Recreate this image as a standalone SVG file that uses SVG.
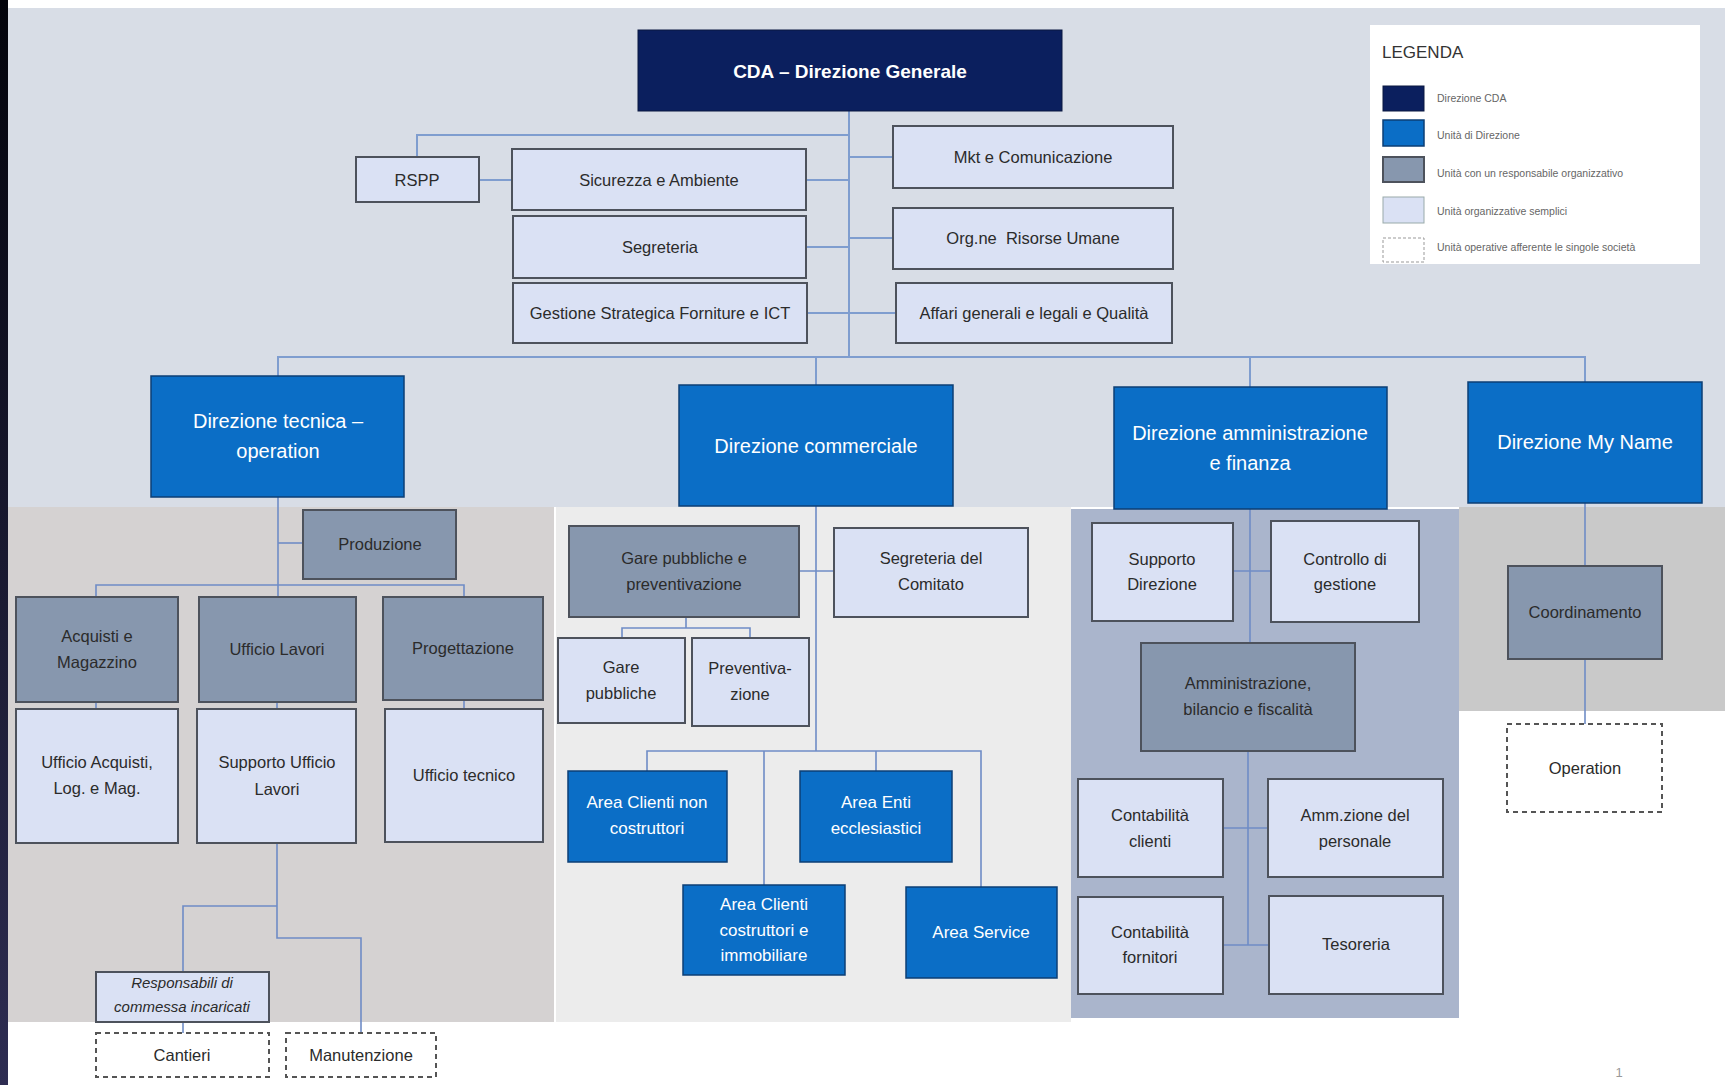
<svg xmlns="http://www.w3.org/2000/svg" width="1725" height="1085" viewBox="0 0 1725 1085">
<defs>
<linearGradient id="band" x1="0" y1="0" x2="0" y2="1">
<stop offset="0" stop-color="#03040c"/>
<stop offset="1" stop-color="#2e2d52"/>
</linearGradient>
</defs>
<style>
.l{fill:#dae1f4;stroke:#4d525c;stroke-width:2}
.m{fill:#8797ae;stroke:#4d525c;stroke-width:2}
.b{fill:#0b6ec6;stroke:#0d3f75;stroke-width:1.5}
.n{fill:#0b1f5e;stroke:#0a1840;stroke-width:1}
.d{fill:#ffffff;stroke:#555;stroke-width:2;stroke-dasharray:5 4}
.c{fill:none;stroke:#7f9dcf;stroke-width:2}
.ci{fill:none;stroke:#6f8cc6;stroke-width:1.6}
text{font-family:"Liberation Sans",Arial,sans-serif;text-anchor:middle}
.t{font-size:16.5px;fill:#2b2b2b}
.w{font-size:20px;fill:#ffffff}
.ws{font-size:17px;fill:#ffffff}
.lg{font-size:10.5px;fill:#666;text-anchor:start}
</style>
<rect x="0" y="0" width="1725" height="1085" fill="#ffffff"/>
<rect x="8" y="8" width="1717" height="499" fill="#d8dde6"/>
<rect x="8" y="507" width="546" height="515" fill="#d5d2d2"/>
<rect x="556" y="507" width="515" height="515" fill="#ececec"/>
<rect x="1071" y="509" width="388" height="509" fill="#aab5cc"/>
<rect x="1459" y="507" width="266" height="204" fill="#c9c9c9"/>
<rect x="0" y="0" width="8" height="1085" fill="url(#band)"/>

<g id="connectors">
<path class="c" d="M849 111 V357"/>
<path class="c" d="M417 157 V135 H849"/>
<path class="c" d="M479 180 H512"/>
<path class="c" d="M806 180 H849"/>
<path class="c" d="M806 247 H849"/>
<path class="c" d="M807 313 H849"/>
<path class="c" d="M849 157 H893"/>
<path class="c" d="M849 238 H893"/>
<path class="c" d="M849 313 H896"/>
<path class="c" d="M278 376 V357 H1585 V382"/>
<path class="c" d="M816 357 V385"/>
<path class="c" d="M1250 357 V387"/>
<path class="ci" d="M278 497 V597"/>
<path class="ci" d="M278 543 H303"/>
<path class="ci" d="M96 597 V585 H464 V597"/>
<path class="ci" d="M96 702 V709"/>
<path class="ci" d="M277 702 V709"/>
<path class="ci" d="M464 700 V709"/>
<path class="ci" d="M277 843 V938 H361 V1033"/>
<path class="ci" d="M277 906 H183 V972"/>
<path class="ci" d="M183 1022 V1033"/>
<path class="ci" d="M816 506 V751"/>
<path class="ci" d="M799 571 H834"/>
<path class="ci" d="M686 617 V628"/>
<path class="ci" d="M622 638 V628 H750 V638"/>
<path class="ci" d="M647 771 V751 H981 V887"/>
<path class="ci" d="M764 751 V885"/>
<path class="ci" d="M876 751 V771"/>
<path class="ci" d="M1250 509 V643"/>
<path class="ci" d="M1233 571 H1271"/>
<path class="ci" d="M1248 751 V945"/>
<path class="ci" d="M1223 828 H1268"/>
<path class="ci" d="M1223 945 H1269"/>
<path class="ci" d="M1585 503 V566"/>
<path class="ci" d="M1585 659 V724"/>
</g>

<g id="cda"><rect class="n" x="638" y="30" width="424" height="81"/><text x="850" y="78" style="font-size:19px;font-weight:bold;fill:#fff">CDA – Direzione Generale</text></g>
<g id="rspp"><rect class="l" x="356" y="157" width="123" height="45"/><text class="t" x="417" y="186">RSPP</text></g>
<g id="sicurezza"><rect class="l" x="512" y="149" width="294" height="61"/><text class="t" x="659" y="186">Sicurezza e Ambiente</text></g>
<g id="segreteria"><rect class="l" x="513" y="216" width="293" height="62"/><text class="t" x="660" y="253">Segreteria</text></g>
<g id="gestione"><rect class="l" x="513" y="283" width="294" height="60"/><text class="t" x="660" y="319">Gestione Strategica Forniture e ICT</text></g>
<g id="mkt"><rect class="l" x="893" y="126" width="280" height="62"/><text class="t" x="1033" y="163">Mkt e Comunicazione</text></g>
<g id="orgne"><rect class="l" x="893" y="208" width="280" height="61"/><text class="t" x="1033" y="244" style="white-space:pre">Org.ne  Risorse Umane</text></g>
<g id="affari"><rect class="l" x="896" y="283" width="276" height="60"/><text class="t" x="1034" y="319">Affari generali e legali e Qualità</text></g>

<g id="dir-tecnica"><rect class="b" x="151" y="376" width="253" height="121"/><text class="w" x="278" y="428">Direzione tecnica –</text><text class="w" x="278" y="458">operation</text></g>
<g id="dir-commerciale"><rect class="b" x="679" y="385" width="274" height="121"/><text class="w" x="816" y="453">Direzione commerciale</text></g>
<g id="dir-amm"><rect class="b" x="1114" y="387" width="273" height="122"/><text class="w" x="1250" y="440">Direzione amministrazione</text><text class="w" x="1250" y="470">e finanza</text></g>
<g id="dir-myname"><rect class="b" x="1468" y="382" width="234" height="121"/><text class="w" x="1585" y="449">Direzione My Name</text></g>

<g id="produzione"><rect class="m" x="303" y="510" width="153" height="69"/><text class="t" x="380" y="550">Produzione</text></g>
<g id="acquisti"><rect class="m" x="16" y="597" width="162" height="105"/><text class="t" x="97" y="642">Acquisti e</text><text class="t" x="97" y="668">Magazzino</text></g>
<g id="ufficio-lavori"><rect class="m" x="199" y="597" width="157" height="105"/><text class="t" x="277" y="655">Ufficio Lavori</text></g>
<g id="progettazione"><rect class="m" x="383" y="597" width="160" height="103"/><text class="t" x="463" y="654">Progettazione</text></g>
<g id="ufficio-acquisti"><rect class="l" x="16" y="709" width="162" height="134"/><text class="t" x="97" y="768">Ufficio Acquisti,</text><text class="t" x="97" y="794">Log. e Mag.</text></g>
<g id="supporto-lavori"><rect class="l" x="197" y="709" width="159" height="134"/><text class="t" x="277" y="768">Supporto Ufficio</text><text class="t" x="277" y="795">Lavori</text></g>
<g id="ufficio-tecnico"><rect class="l" x="385" y="709" width="158" height="133"/><text class="t" x="464" y="781">Ufficio tecnico</text></g>
<g id="responsabili"><rect class="l" x="96" y="972" width="173" height="50"/><text class="t" x="182" y="988" style="font-size:15px;font-style:italic">Responsabili di</text><text class="t" x="182" y="1012" style="font-size:15px;font-style:italic">commessa incaricati</text></g>
<g id="cantieri"><rect class="d" x="96" y="1033" width="173" height="44"/><text class="t" x="182" y="1061">Cantieri</text></g>
<g id="manutenzione"><rect class="d" x="286" y="1033" width="150" height="44"/><text class="t" x="361" y="1061">Manutenzione</text></g>

<g id="gare-prev"><rect class="m" x="569" y="526" width="230" height="91"/><text class="t" x="684" y="564">Gare pubbliche e</text><text class="t" x="684" y="590">preventivazione</text></g>
<g id="segr-comitato"><rect class="l" x="834" y="528" width="194" height="89"/><text class="t" x="931" y="564">Segreteria del</text><text class="t" x="931" y="590">Comitato</text></g>
<g id="gare-pubbliche"><rect class="l" x="558" y="638" width="127" height="85"/><text class="t" x="621" y="673">Gare</text><text class="t" x="621" y="699">pubbliche</text></g>
<g id="preventivazione"><rect class="l" x="692" y="638" width="117" height="88"/><text class="t" x="750" y="674">Preventiva-</text><text class="t" x="750" y="700">zione</text></g>
<g id="area-non-costruttori"><rect class="b" x="568" y="771" width="159" height="91"/><text class="ws" x="647" y="808">Area Clienti non</text><text class="ws" x="647" y="834">costruttori</text></g>
<g id="area-enti"><rect class="b" x="800" y="771" width="152" height="91"/><text class="ws" x="876" y="808">Area Enti</text><text class="ws" x="876" y="834">ecclesiastici</text></g>
<g id="area-costruttori"><rect class="b" x="683" y="885" width="162" height="90"/><text class="ws" x="764" y="910">Area Clienti</text><text class="ws" x="764" y="936">costruttori e</text><text class="ws" x="764" y="961">immobiliare</text></g>
<g id="area-service"><rect class="b" x="906" y="887" width="151" height="91"/><text class="ws" x="981" y="938">Area Service</text></g>

<g id="supporto-direzione"><rect class="l" x="1092" y="523" width="141" height="98"/><text class="t" x="1162" y="565">Supporto</text><text class="t" x="1162" y="590">Direzione</text></g>
<g id="controllo"><rect class="l" x="1271" y="521" width="148" height="101"/><text class="t" x="1345" y="565">Controllo di</text><text class="t" x="1345" y="590">gestione</text></g>
<g id="amministrazione"><rect class="m" x="1141" y="643" width="214" height="108"/><text class="t" x="1248" y="689">Amministrazione,</text><text class="t" x="1248" y="715">bilancio e fiscalità</text></g>
<g id="cont-clienti"><rect class="l" x="1078" y="779" width="145" height="98"/><text class="t" x="1150" y="821">Contabilità</text><text class="t" x="1150" y="847">clienti</text></g>
<g id="amm-personale"><rect class="l" x="1268" y="779" width="175" height="98"/><text class="t" x="1355" y="821">Amm.zione del</text><text class="t" x="1355" y="847">personale</text></g>
<g id="cont-fornitori"><rect class="l" x="1078" y="897" width="145" height="97"/><text class="t" x="1150" y="938">Contabilità</text><text class="t" x="1150" y="963">fornitori</text></g>
<g id="tesoreria"><rect class="l" x="1269" y="896" width="174" height="98"/><text class="t" x="1356" y="950">Tesoreria</text></g>

<g id="coordinamento"><rect class="m" x="1508" y="566" width="154" height="93"/><text class="t" x="1585" y="618">Coordinamento</text></g>
<g id="operation"><rect class="d" x="1507" y="724" width="155" height="88"/><text class="t" x="1585" y="774">Operation</text></g>

<g id="legenda">
<rect x="1370" y="25" width="330" height="239" fill="#ffffff"/>
<text x="1382" y="58" style="font-size:17px;fill:#333;text-anchor:start">LEGENDA</text>
<rect class="n" x="1383" y="86" width="41" height="25"/>
<rect class="b" x="1383" y="120" width="41" height="26"/>
<rect class="m" x="1383" y="157" width="41" height="25"/>
<rect x="1383" y="197" width="41" height="26" fill="#dae1f4" stroke="#9aa" stroke-width="1"/>
<rect x="1383" y="238" width="41" height="24" fill="#fff" stroke="#999" stroke-width="1" stroke-dasharray="3 2"/>
<text class="lg" x="1437" y="102">Direzione CDA</text>
<text class="lg" x="1437" y="139">Unità di Direzione</text>
<text class="lg" x="1437" y="177">Unità con un responsabile organizzativo</text>
<text class="lg" x="1437" y="215">Unità organizzative semplici</text>
<text class="lg" x="1437" y="251">Unità operative afferente le singole società</text>
</g>
<text x="1619" y="1077" style="font-size:13px;fill:#999">1</text>
</svg>
